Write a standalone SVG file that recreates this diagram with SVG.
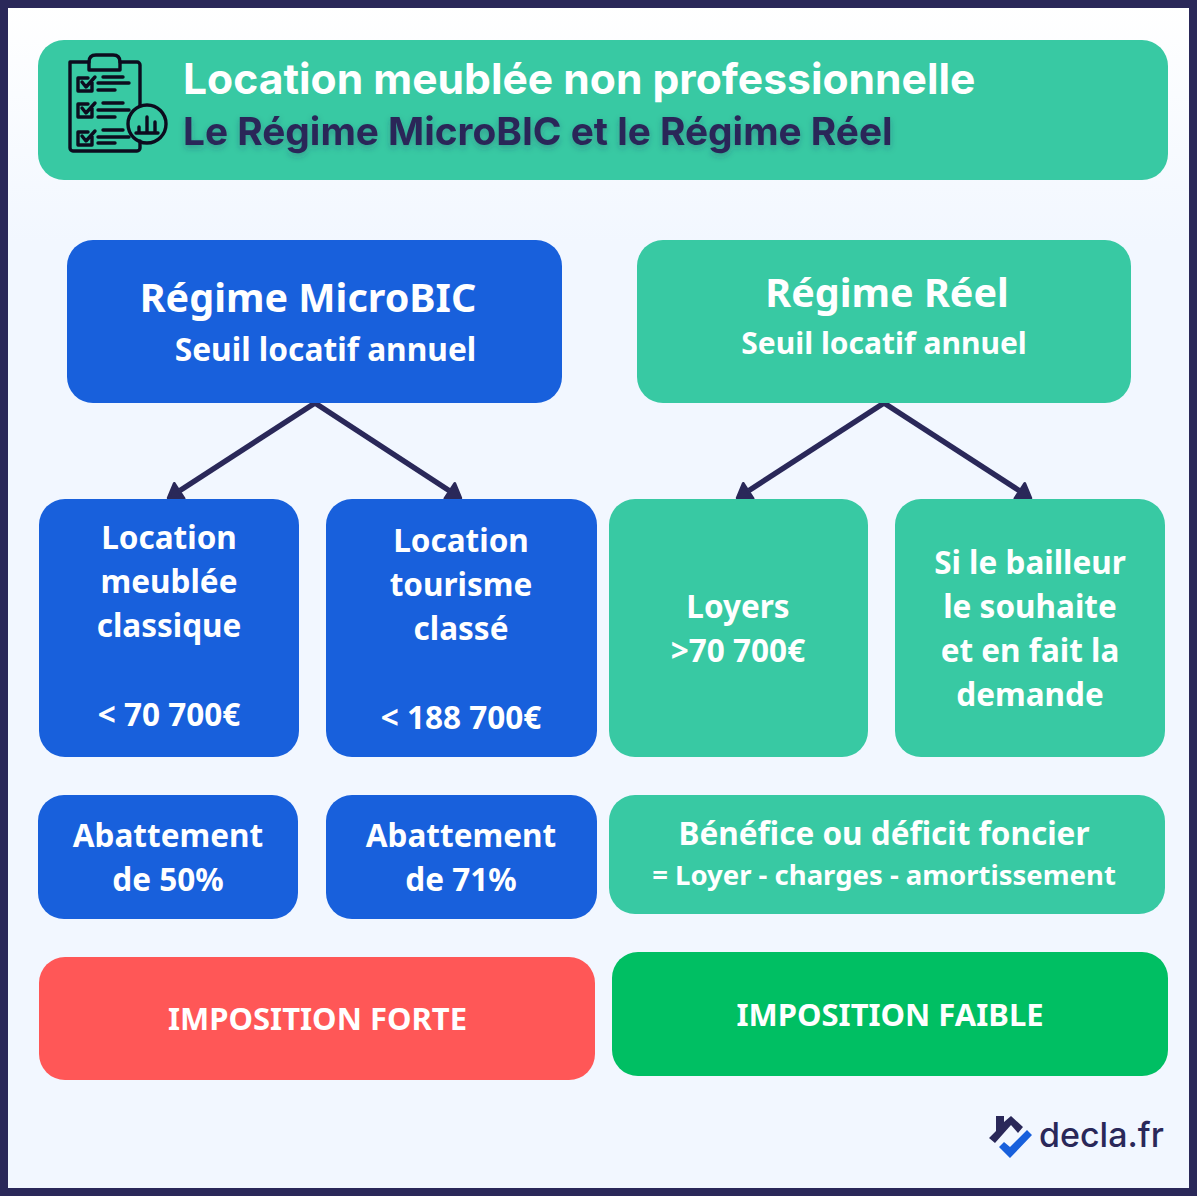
<svg xmlns="http://www.w3.org/2000/svg" width="1200" height="1200" viewBox="0 0 1200 1200">
<style>
.blue{fill:#1860dc}.green{fill:#38c9a3}
text{font-family:"Noto Sans","Liberation Sans",sans-serif;font-weight:700;fill:#fff;text-anchor:middle}
.t32{font-size:31.5px}.t30{font-size:30px}.t40{font-size:39.5px}.t31{font-size:31px}
.title{font-family:Inter,"Liberation Sans",sans-serif;font-weight:700;text-anchor:start}
.conn{stroke:#2a2859;stroke-width:5.5;fill:none;marker-end:url(#arrow)}
.ico{fill:none;stroke:#0c0c1e;stroke-width:3.4;stroke-linecap:round;stroke-linejoin:round}
</style>
<defs>
<linearGradient id="bg" x1="0" y1="0" x2="0" y2="1"><stop offset="0" stop-color="#ffffff"/><stop offset="0.2" stop-color="#f2f7ff"/></linearGradient>
<marker id="arrow" markerUnits="userSpaceOnUse" markerWidth="24" markerHeight="28" refX="1" refY="14" orient="auto"><path d="M2 5L15 14L2 23Z" fill="#2a2859" stroke="#2a2859" stroke-width="3" stroke-linejoin="round"/></marker>
<filter id="sh" x="-5%" y="-30%" width="110%" height="160%"><feDropShadow dx="0" dy="3" stdDeviation="3" flood-color="#2a2859" flood-opacity="0.3"/></filter>
</defs>
<rect x="4" y="4" width="1189" height="1188" fill="url(#bg)" stroke="#2a2859" stroke-width="8"/>

<g id="header">
<rect x="38" y="40" width="1130" height="140" rx="26" class="green"/>
<g class="ico">
<path d="M89 62H70V148A3 3 0 0 0 73 151H137A3 3 0 0 0 140 148V141"/>
<path d="M120 62H137A3 3 0 0 1 140 65V106"/>
<path d="M89 70V62Q89 55 96 55H113Q120 55 120 62V70Z"/>
<path d="M88 78H78V91H92V82M82 82L86 87L95 77"/>
<path d="M103 77H123M98 83H129M98 90H115"/>
<path d="M88 104H78V117H92V108M82 108L86 113L95 103"/>
<path d="M103 103H123M98 110H129M98 117H115"/>
<path d="M88 132H78V145H92V136M82 136L86 141L95 131"/>
<path d="M103 130H123M98 137H129M98 143H115"/>
<circle cx="147" cy="124" r="19"/>
<path d="M136 133H158M139 133V127M147 133V117M155 133V122"/>
</g>
<text class="title" x="183" y="94" font-size="42.600">Location meublée non professionnelle</text>
<text class="title" x="183" y="145" font-size="38.800" style="fill:#2a2859" filter="url(#sh)">Le Régime MicroBIC et le Régime Réel</text>
</g>

<g id="connectors">
<path class="conn" d="M315 403L180 490.500"/>
<path class="conn" d="M315 403L449 490.500"/>
<path class="conn" d="M884 403L749 490.500"/>
<path class="conn" d="M884 403L1019 490.500"/>
</g>

<g id="microbic">
<rect x="67" y="240" width="495" height="163" rx="26" class="blue"/>
<text class="t40" x="308" y="312">Régime MicroBIC</text>
<text x="325.500" y="361" font-size="31.700">Seuil locatif annuel</text>
</g>
<g id="reel">
<rect x="637" y="240" width="494" height="163" rx="26" class="green"/>
<text class="t40" x="887" y="307">Régime Réel</text>
<text class="t30" x="884" y="354">Seuil locatif annuel</text>
</g>

<g id="classique">
<rect x="39" y="499" width="260" height="258" rx="26" class="blue"/>
<text class="t32" x="169" y="549">Location</text>
<text class="t32" x="169" y="593">meublée</text>
<text class="t32" x="169" y="637">classique</text>
<text class="t32" x="169" y="726">&lt; 70 700€</text>
</g>
<g id="tourisme">
<rect x="326" y="499" width="271" height="258" rx="26" class="blue"/>
<text class="t32" x="461" y="552">Location</text>
<text class="t32" x="461" y="596">tourisme</text>
<text class="t32" x="461" y="640">classé</text>
<text class="t32" x="461" y="729">&lt; 188 700€</text>
</g>
<g id="loyers">
<rect x="609" y="499" width="259" height="258" rx="26" class="green"/>
<text class="t32" x="738" y="618">Loyers</text>
<text class="t32" x="738" y="662">&gt;70 700€</text>
</g>
<g id="bailleur">
<rect x="895" y="499" width="270" height="258" rx="26" class="green"/>
<text class="t32" x="1030" y="574">Si le bailleur</text>
<text class="t32" x="1030" y="618">le souhaite</text>
<text class="t32" x="1030" y="662">et en fait la</text>
<text class="t32" x="1030" y="706">demande</text>
</g>

<g id="abattement50">
<rect x="38" y="795" width="260" height="124" rx="26" class="blue"/>
<text class="t32" x="168" y="847">Abattement</text>
<text class="t32" x="168" y="891">de 50%</text>
</g>
<g id="abattement71">
<rect x="326" y="795" width="271" height="124" rx="26" class="blue"/>
<text class="t32" x="461" y="847">Abattement</text>
<text class="t32" x="461" y="891">de 71%</text>
</g>
<g id="benefice">
<rect x="609" y="795" width="556" height="119" rx="26" class="green"/>
<text class="t32" x="884" y="845">Bénéfice ou déficit foncier</text>
<text x="884" y="885" font-size="27.500">= Loyer - charges - amortissement</text>
</g>

<g id="forte">
<rect x="39" y="957" width="556" height="123" rx="26" fill="#ff5757"/>
<text class="t31" x="317.500" y="1030">IMPOSITION FORTE</text>
</g>
<g id="faible">
<rect x="612" y="952" width="556" height="124" rx="26" fill="#00bf63"/>
<text class="t31" x="890" y="1026">IMPOSITION FAIBLE</text>
</g>

<g id="logo">
<path d="M989 1138L996 1131V1116H1004V1122L1011 1116L1023 1127L1018 1133L1011 1125L995 1143Z" fill="#2a2859"/>
<path d="M999 1147L1004 1142L1010 1147L1027 1130L1032 1135L1010 1158Z" fill="#1860dc"/>
<text x="1039" y="1147" font-size="34" style="font-family:Inter,'Liberation Sans',sans-serif;font-weight:500;text-anchor:start;fill:#2a2859">decla.fr</text>
</g>
</svg>
